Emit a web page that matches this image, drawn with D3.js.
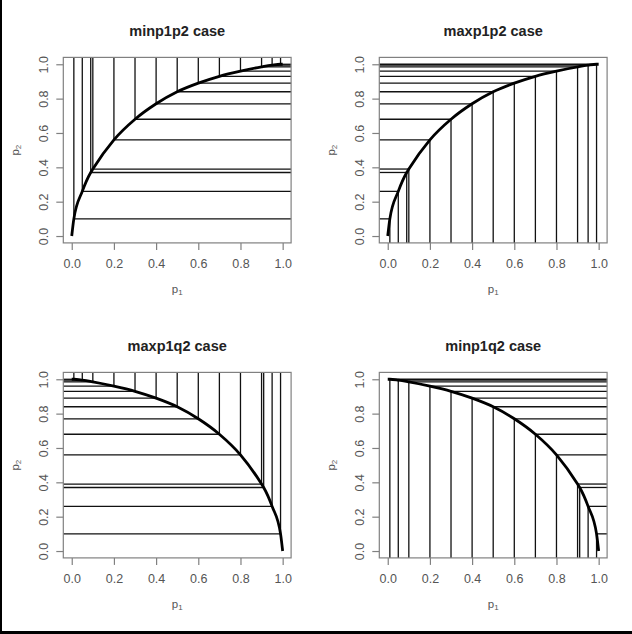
<!DOCTYPE html>
<html>
<head>
<script src="https://cdn.jsdelivr.net/npm/d3@7"></script>
<style>
  body { margin: 0; background: #fff; }
  svg { display: block; }
  text { font-family: 'Liberation Sans', Arial, sans-serif; }
</style>
</head>
<body>
<script>
// points on the rising curve (top panels)
const p1Up = [0, 0.01, 0.05, 0.09, 0.1, 0.2, 0.3, 0.4, 0.5, 0.6, 0.7, 0.8, 0.9, 0.95, 0.99, 1];
const p2Up = [0, 0.10, 0.26, 0.37, 0.39, 0.56, 0.68, 0.77, 0.84, 0.89, 0.93, 0.96, 0.985, 0.995, 1, 1];
// points on the falling curve (bottom panels)
const p1Down = [0, 0.01, 0.05, 0.1, 0.2, 0.3, 0.4, 0.5, 0.6, 0.7, 0.8, 0.9, 0.91, 0.95, 0.99, 1];
const p2Down = [1, 1, 0.995, 0.985, 0.96, 0.93, 0.89, 0.84, 0.77, 0.68, 0.56, 0.39, 0.37, 0.26, 0.10, 0];
const tickValues = [0, 0.2, 0.4, 0.6, 0.8, 1.0];
const tickLabels = ['0.0', '0.2', '0.4', '0.6', '0.8', '1.0'];

const panels = [
  {title: 'minp1p2 case', xs: p1Up, ys: p2Up, vert: 'top', horiz: 'right', col: 0, row: 0},
  {title: 'maxp1p2 case', xs: p1Up, ys: p2Up, vert: 'bottom', horiz: 'left', col: 1, row: 0},
  {title: 'maxp1q2 case', xs: p1Down, ys: p2Down, vert: 'top', horiz: 'left', col: 0, row: 1},
  {title: 'minp1q2 case', xs: p1Down, ys: p2Down, vert: 'bottom', horiz: 'right', col: 1, row: 1}
];

const W = 632, H = 634;
const svg = d3.select('body').append('svg').attr('width', W).attr('height', H);

const x = d3.scaleLinear().domain([-0.04, 1.04]).range([63.3, 291.1]);
const y = d3.scaleLinear().domain([-0.04, 1.04]).range([242.9, 57.4]);
const axisCol = '#808080', textCol = '#555';

panels.forEach(p => {
  const g = svg.append('g')
    .attr('transform', `translate(${p.col * 316}, ${p.row * 315})`);
  const pts = p.xs.map((v, i) => [v, p.ys[i]]);
  const inner = pts.slice(1, -1);       // grid lines only from interior points

  // vertical lines: from curve to top, or from bottom to curve
  g.append('g').selectAll('line').data(inner).join('line')
    .attr('x1', d => x(d[0])).attr('x2', d => x(d[0]))
    .attr('y1', d => y(d[1]))
    .attr('y2', p.vert === 'top' ? y(1.04) : y(-0.04))
    .attr('stroke', '#111').attr('stroke-width', 1.3);

  // horizontal lines: from curve to right edge, or from left edge to curve
  g.append('g').selectAll('line').data(inner).join('line')
    .attr('y1', d => y(d[1])).attr('y2', d => y(d[1]))
    .attr('x1', d => x(d[0]))
    .attr('x2', p.horiz === 'right' ? x(1.04) : x(-0.04))
    .attr('stroke', '#111').attr('stroke-width', 1.3);

  // the curve itself
  g.append('path')
    .datum(pts)
    .attr('fill', 'none')
    .attr('stroke', '#000')
    .attr('stroke-width', 2.8)
    .attr('d', d3.line().x(d => x(d[0])).y(d => y(d[1])).curve(d3.curveMonotoneX));

  // box
  g.append('rect')
    .attr('x', x(-0.04)).attr('y', y(1.04))
    .attr('width', x(1.04) - x(-0.04)).attr('height', y(-0.04) - y(1.04))
    .attr('fill', 'none').attr('stroke', axisCol).attr('stroke-width', 1.2);

  // axes
  const xAxis = g.append('g')
    .attr('transform', `translate(0, ${y(-0.04)})`)
    .call(d3.axisBottom(x).tickValues(tickValues).tickFormat((d, i) => tickLabels[i]).tickSize(7).tickPadding(9));
  const yAxis = g.append('g')
    .attr('transform', `translate(${x(-0.04)}, 0)`)
    .call(d3.axisLeft(y).tickValues(tickValues).tickFormat((d, i) => tickLabels[i]).tickSize(7).tickPadding(4));
  [xAxis, yAxis].forEach(a => {
    a.select('.domain').remove();
    a.selectAll('line').attr('stroke', axisCol).attr('stroke-width', 1.2);
    a.selectAll('text').attr('fill', textCol).style('font-size', '12.5px')
      .style('font-family', "'Liberation Sans', Arial, sans-serif");
  });
  // R style: y tick labels run parallel to the axis
  yAxis.selectAll('.tick text')
    .attr('x', null).attr('dy', null)
    .attr('text-anchor', 'middle')
    .attr('transform', 'translate(-15.5, 0) rotate(-90)');

  // title
  g.append('text')
    .attr('x', (x(-0.04) + x(1.04)) / 2).attr('y', 36)
    .attr('text-anchor', 'middle')
    .style('font-size', '14.5px').style('font-weight', 'bold')
    .attr('fill', '#222')
    .text(p.title);

  // x label p1
  const xl = g.append('text')
    .attr('x', (x(-0.04) + x(1.04)) / 2).attr('y', 293)
    .attr('text-anchor', 'middle')
    .style('font-size', '11.5px').attr('fill', textCol);
  xl.append('tspan').text('p');
  xl.append('tspan').attr('dy', 2).style('font-size', '8px').text('1');

  // y label p2
  const yl = g.append('text')
    .attr('transform', `translate(19, ${(y(-0.04) + y(1.04)) / 2}) rotate(-90)`)
    .attr('text-anchor', 'middle')
    .style('font-size', '11.5px').attr('fill', textCol);
  yl.append('tspan').text('p');
  yl.append('tspan').attr('dy', 2).style('font-size', '8px').text('2');
});

// outer frame edges seen in the picture (left and bottom)
svg.append('rect').attr('x', 0).attr('y', 0).attr('width', 2).attr('height', H).attr('fill', '#000');
svg.append('rect').attr('x', 0).attr('y', 631).attr('width', W).attr('height', 3).attr('fill', '#000');
</script>
</body>
</html>
